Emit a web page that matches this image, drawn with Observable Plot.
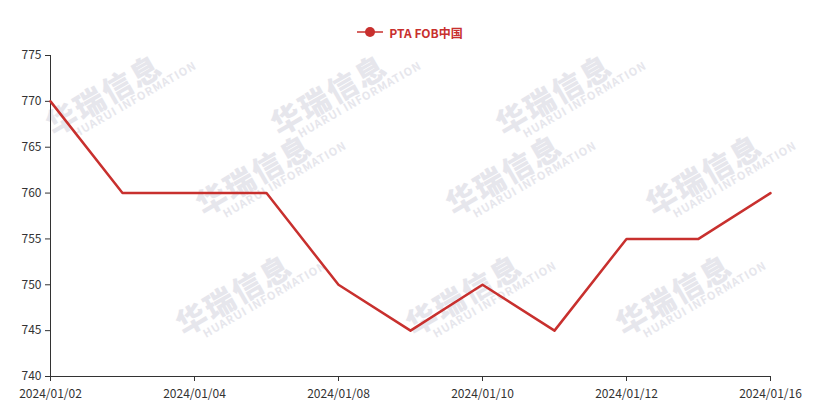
<!DOCTYPE html>
<html><head><meta charset="utf-8">
<script src="https://cdn.jsdelivr.net/npm/d3@7"></script>
<script src="https://cdn.jsdelivr.net/npm/@observablehq/plot@0.6"></script>
<style>
body{margin:0;background:#fff;font-family:"Noto Sans CJK SC","Noto Sans",sans-serif;}
#wrap{position:relative;width:820px;height:417px;overflow:hidden;}
#legend{position:relative;z-index:2;height:20px;padding-top:22px;display:flex;justify-content:center;align-items:center;gap:6px;font-size:12px;font-weight:bold;color:#c8302e;}
#legend svg{display:block}
#chart{position:relative;z-index:2;}
.wm{position:absolute;z-index:1;color:#e6e6ec;font-weight:bold;transform:rotate(-30deg);white-space:nowrap;pointer-events:none;line-height:1;}
.wm b{display:block;font-size:30px;letter-spacing:2px;}
.wm i{display:block;font-style:normal;font-size:11px;letter-spacing:1px;margin-left:18px;}
</style></head>
<body><div id="wrap">
<div id="legend"><svg width="26" height="12"><line x1="0" y1="6" x2="26" y2="6" stroke="#c8302e" stroke-width="1.5"/><circle cx="13" cy="6" r="5" fill="#c8302e"/></svg><span>PTA FOB中国</span></div>
<div id="chart"></div>
</div>
<script>
const dates = ["2024/01/02","2024/01/03","2024/01/04","2024/01/05","2024/01/08","2024/01/09","2024/01/10","2024/01/11","2024/01/12","2024/01/15","2024/01/16"];
const values = [770,760,760,760,750,745,750,745,755,755,760];
const xTicks = ["2024/01/02","2024/01/04","2024/01/08","2024/01/10","2024/01/12","2024/01/16"];
const yTicks = [740,745,750,755,760,765,770,775];
const seriesName = "PTA FOB中国";
const data = dates.map((d,i)=>({date:d, value:values[i]}));

const wrap = document.getElementById("wrap");
const wmPos = [[40,70],[265,70],[490,70],[190,150],[440,150],[640,150],[170,270],[400,270],[610,270]];
for (const [l,t] of wmPos){
  const w=document.createElement("div"); w.className="wm";
  w.style.left=l+"px"; w.style.top=t+"px";
  w.innerHTML="<b>华瑞信息</b><i>HUARUI INFORMATION</i>";
  wrap.appendChild(w);
}

const chart = Plot.plot({
  width: 820, height: 375,
  marginTop: 13, marginBottom: 41, marginLeft: 50, marginRight: 50,
  style: {fontFamily:'"Noto Sans CJK SC","Noto Sans",sans-serif', fontSize:"12px", color:"#333", background:"transparent"},
  x: {type:"point", domain: dates, padding: 0, label: null},
  y: {domain:[740,775], label: null},
  marks: [
    Plot.axisX({ticks: xTicks, tickSize: 5, tickPadding: 8, fontSize: 12, stroke:"#333", color:"#333"}),
    Plot.axisY({ticks: yTicks, tickSize: 5, tickPadding: 4, fontSize: 12, stroke:"#333", color:"#333"}),
    Plot.ruleX([dates[0]], {stroke:"#333"}),
    Plot.ruleY([740], {stroke:"#333"}),
    Plot.line(data, {x:"date", y:"value", stroke:"#c8302e", strokeWidth:2.5})
  ]
});
document.getElementById("chart").appendChild(chart);
</script>
</body></html>
